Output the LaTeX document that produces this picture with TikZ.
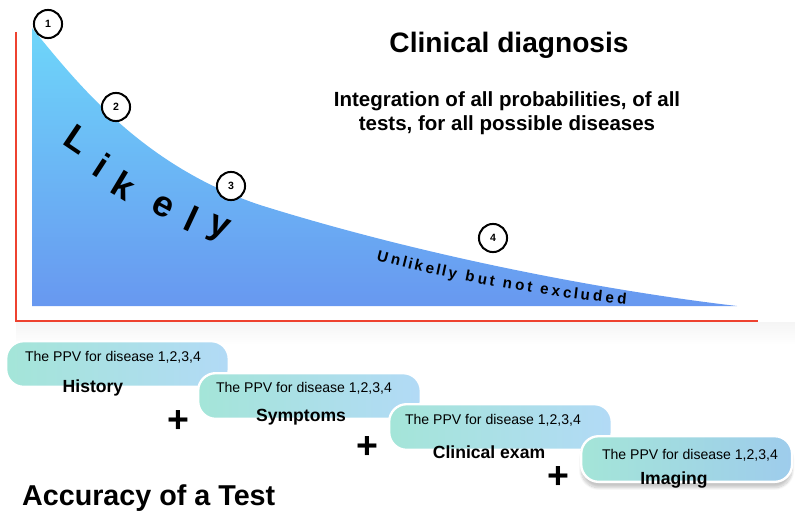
\documentclass[tikz,border=0pt]{standalone}
\usepackage{fontspec}
\setmainfont{Liberation Sans}
\setsansfont{Liberation Sans}
\usepackage{tikz}
\usetikzlibrary{positioning,calc,decorations.text,shadows.blur}
\definecolor{axisRed}{RGB}{238,66,48}
\definecolor{curveTop}{RGB}{110,214,250}
\definecolor{curveBottom}{RGB}{104,152,240}
\definecolor{pillTeal}{RGB}{164,229,216}
\definecolor{pillBlue}{RGB}{178,218,246}
\definecolor{pillDeep}{RGB}{158,204,236}

\begin{document}
\begin{tikzpicture}[x=0.03cm, y=-0.03cm, every node/.style={font=\sffamily},
    nummark/.style={circle, draw=black, line width=1.7pt, fill=white, minimum size=24pt, inner sep=0pt, font=\sffamily\bfseries\fontsize{9}{9}\selectfont},
    likelyletter/.style={font=\sffamily\bfseries\fontsize{31}{31}\selectfont, inner sep=0pt},
    pill/.style={rounded corners=15pt, left color=pillTeal, right color=pillBlue, draw=white, line width=2pt, minimum width=190pt, minimum height=39pt, inner sep=0pt, anchor=north west},
    ppvtext/.style={font=\sffamily\fontsize{12}{12}\selectfont, inner sep=0pt},
    testname/.style={font=\sffamily\bfseries\fontsize{15}{15}\selectfont, inner sep=0pt},
    plussign/.style={font=\sffamily\bfseries\fontsize{32}{32}\selectfont, inner sep=0pt}]
  \useasboundingbox (0,0) rectangle (795,511);
  % faint shadow under the x axis
  \shade[top color=black!4, bottom color=white] (16,322) rectangle (795,345);
  % probability curve, filled down to the baseline
  \shade[top color=curveTop, bottom color=curveBottom] (32,28) .. controls (75,80) and (140,165) .. (260,205)
    .. controls (420,255) and (600,290) .. (737,306) -- (32,306) -- cycle;
  % axes
  \coordinate (ytop) at (16,32);
  \coordinate (origin) at (16,321);
  \coordinate (xend) at (758,321);
  \draw[axisRed, line width=1.4pt] (ytop) -- (origin) -- (xend);
  % numbered points on the curve
  \node[nummark] (m1) at (48,24) {1};
  \node[nummark] (m2) at (116,107) {2};
  \node[nummark] (m3) at (231,186) {3};
  \node[nummark] (m4) at (493,238) {4};
  % big spaced word under the steep part
  \foreach \ch/\lx/\ly/\rot in {L/78/139/-34, i/102/165/-33, k/124/185/-31, e/163/207/-28, l/192/219/-25, y/218/230/-22}
    \node[likelyletter, rotate=\rot] (like\ch) at (\lx,\ly) {\ch};
  % small text along the tail
  \path[font=\sffamily\bfseries\fontsize{13}{13}\selectfont, decorate,
    decoration={text effects along path, text={Unlikelly but not excluded},
      text effects/.cd, text along path, fit text to path,
      characters={font=\sffamily\bfseries\fontsize{13}{13}\selectfont}}]
    (376,260) .. controls (456,282) and (546,297) .. (626,304);
  % headings
  \node[font=\sffamily\bfseries\fontsize{24}{24}\selectfont, anchor=base] (diag) at (509,53) {Clinical diagnosis};
  \node[font=\sffamily\bfseries\fontsize{17.5}{21.3}\selectfont, align=center, anchor=base] (integ) at (507,131)
    {Integration of all probabilities, of all\\tests, for all possible diseases};
  % one pill per test, each lying over the one before
  \node[pill] (histBox) at (5,340) {};
  \node[ppvtext] (histPPV) at (113,357) {The PPV for disease 1,2,3,4};
  \node[testname] (histName) at (93,388) {History};
  \node[plussign] (plusA) at (178,422) {+};
  \node[pill] (sympBox) at (197,372) {};
  \node[ppvtext] (sympPPV) at (304,388) {The PPV for disease 1,2,3,4};
  \node[testname] (sympName) at (301,417) {Symptoms};
  \node[plussign] (plusB) at (367,448) {+};
  \node[pill] (examBox) at (388,403) {};
  \node[ppvtext] (examPPV) at (493,420) {The PPV for disease 1,2,3,4};
  \node[testname] (examName) at (489,452) {Clinical exam};
  \node[plussign] (plusC) at (558,478) {+};
  \node[pill, minimum width=180pt, right color=pillDeep,
    blur shadow={shadow xshift=0pt, shadow yshift=-5pt, shadow blur steps=12, shadow opacity=22}] (imgBox) at (580,435) {};
  \node[ppvtext] (imgPPV) at (690,455) {The PPV for disease 1,2,3,4};
  \node[testname] (imgName) at (674,480) {Imaging};
  \node[font=\sffamily\bfseries\fontsize{24.5}{24.5}\selectfont, anchor=base west] (accu) at (18,505) {Accuracy of a Test};
\end{tikzpicture}
\end{document}
